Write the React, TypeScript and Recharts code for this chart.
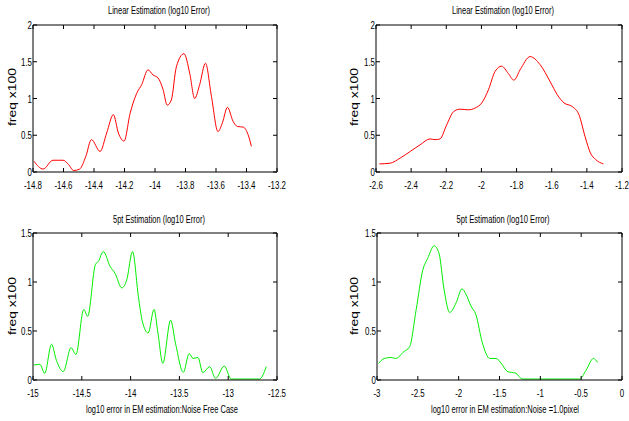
import { Line, LineChart, XAxis, YAxis } from 'recharts';

// panel 1: linear estimation, noise free
const linFreeX = [-14.793, -14.734, -14.669, -14.603, -14.57, -14.533, -14.494, -14.454, -14.417, -14.36, -14.317, -14.273, -14.24, -14.203, -14.163, -14.12, -14.087, -14.046, -14.013, -13.98, -13.947, -13.92, -13.893, -13.86, -13.81, -13.772, -13.74, -13.707, -13.669, -13.63, -13.587, -13.558, -13.525, -13.488, -13.46, -13.42, -13.39, -13.368];
const linFreeY = [0.145, 0.04, 0.16, 0.16, 0.11, 0.02, 0.04, 0.21, 0.44, 0.28, 0.53, 0.78, 0.53, 0.42, 0.8, 1.07, 1.19, 1.39, 1.32, 1.28, 1.12, 0.91, 0.98, 1.43, 1.61, 1.34, 1.0, 1.19, 1.48, 1.03, 0.55, 0.67, 0.88, 0.69, 0.62, 0.61, 0.51, 0.35];

// panel 2: linear estimation, noise 1.0 pixel
const linNoiseX = [-2.581, -2.519, -2.462, -2.405, -2.349, -2.292, -2.264, -2.236, -2.198, -2.159, -2.122, -2.075, -2.036, -1.998, -1.96, -1.922, -1.885, -1.847, -1.815, -1.78, -1.723, -1.666, -1.609, -1.568, -1.53, -1.483, -1.445, -1.41, -1.38, -1.35, -1.306];
const linNoiseY = [0.11, 0.12, 0.19, 0.28, 0.37, 0.45, 0.44, 0.45, 0.64, 0.82, 0.855, 0.846, 0.87, 0.94, 1.12, 1.37, 1.44, 1.34, 1.25, 1.39, 1.57, 1.46, 1.23, 1.05, 0.94, 0.89, 0.78, 0.48, 0.26, 0.17, 0.11];

// panel 3: 5pt estimation, noise free
const ptFreeX = [-14.99, -14.93, -14.88, -14.81, -14.76, -14.69, -14.61, -14.56, -14.48, -14.44, -14.36, -14.33, -14.28, -14.21, -14.16, -14.09, -14.04, -13.98, -13.92, -13.88, -13.82, -13.76, -13.72, -13.67, -13.59, -13.54, -13.46, -13.4, -13.36, -13.31, -13.26, -13.19, -13.13, -13.04, -12.97, -12.89, -12.68, -12.61];
const ptFreeY = [0.153, 0.16, 0.068, 0.365, 0.2, 0.085, 0.33, 0.26, 0.72, 0.65, 1.18, 1.21, 1.31, 1.16, 1.09, 0.94, 1.02, 1.31, 0.85, 0.6, 0.48, 0.72, 0.48, 0.17, 0.61, 0.375, 0.078, 0.27, 0.22, 0.23, 0.075, 0.136, 0.017, 0.143, 0.01, 0.01, 0.01, 0.136];

// panel 4: 5pt estimation, noise 1.0 pixel
const ptNoiseX = [-2.98, -2.91, -2.83, -2.77, -2.67, -2.6, -2.52, -2.44, -2.38, -2.3, -2.24, -2.18, -2.11, -2.03, -1.96, -1.91, -1.85, -1.79, -1.71, -1.62, -1.54, -1.48, -1.4, -1.3, -1.22, -0.97, -0.52, -0.44, -0.35, -0.3];
const ptNoiseY = [0.17, 0.22, 0.23, 0.22, 0.29, 0.34, 0.72, 1.12, 1.24, 1.37, 1.29, 0.93, 0.69, 0.79, 0.93, 0.875, 0.755, 0.67, 0.38, 0.22, 0.22, 0.17, 0.086, 0.069, 0.01, 0.01, 0.01, 0.1, 0.22, 0.18];

const linFreeTicks = [-14.8, -14.6, -14.4, -14.2, -14, -13.8, -13.6, -13.4, -13.2];
const linNoiseTicks = [-2.6, -2.4, -2.2, -2, -1.8, -1.6, -1.4, -1.2];
const ptFreeTicks = [-15, -14.5, -14, -13.5, -13, -12.5];
const ptNoiseTicks = [-3, -2.5, -2, -1.5, -1, -0.5, 0];
const yTicksTop = [0, 0.5, 1, 1.5, 2];
const yTicksBottom = [0, 0.5, 1, 1.5];

const FONT = '"Liberation Sans", Arial, sans-serif';
const TICK = 4;
const SQUEEZE = 0.72; // the original tick font is a narrow one

const fmt = (v: number) => String(Number(v.toFixed(2)));

function zip(xs: number[], ys: number[]) {
  return xs.map((x, i) => ({ x, y: ys[i] }));
}

function NarrowText({ x, y, anchor, children }: any) {
  return (
    <text transform={`translate(${x},${y}) scale(${SQUEEZE},1)`} textAnchor={anchor} fontSize={11} fontFamily={FONT} fill="#000">
      {children}
    </text>
  );
}

function BottomTick({ x, y, payload }: any) {
  return (
    <g>
      <line x1={x} y1={y} x2={x} y2={y - TICK} stroke="#000" />
      <NarrowText x={x} y={y + 17} anchor="middle">{fmt(payload.value)}</NarrowText>
    </g>
  );
}

function TopTick({ x, y }: any) {
  return <line x1={x} y1={y} x2={x} y2={y + TICK} stroke="#000" />;
}

function LeftTick({ x, y, payload }: any) {
  return (
    <g>
      <line x1={x} y1={y} x2={x + TICK} y2={y} stroke="#000" />
      <NarrowText x={x - 1} y={y + 4} anchor="end">{fmt(payload.value)}</NarrowText>
    </g>
  );
}

function RightTick({ x, y }: any) {
  return <line x1={x} y1={y} x2={x - TICK} y2={y} stroke="#000" />;
}

interface PanelProps {
  left: number;
  top: number;
  width: number;
  height: number;
  margin: { top: number; right: number; bottom: number; left: number };
  xs: number[];
  ys: number[];
  xTicks: number[];
  yTicks: number[];
  color: string;
}

function Panel({ left, top, width, height, margin, xs, ys, xTicks, yTicks, color }: PanelProps) {
  const data = zip(xs, ys);
  const xDomain = [xTicks[0], xTicks[xTicks.length - 1]];
  const yDomain = [yTicks[0], yTicks[yTicks.length - 1]];
  // axes take 1px each, so trim the margins to keep the plot box where it belongs
  const m = { top: margin.top - 1, bottom: margin.bottom - 1, left: margin.left - 1, right: margin.right - 1 };
  return (
    <div style={{ position: 'absolute', left, top }}>
      <LineChart width={width} height={height} data={data} margin={m}>
        <XAxis xAxisId="b" dataKey="x" type="number" domain={xDomain} ticks={xTicks} allowDataOverflow
          height={1} tickSize={0} tickMargin={0} tickLine={false} axisLine={{ stroke: '#000' }}
          tick={<BottomTick />} interval={0} />
        <XAxis xAxisId="t" orientation="top" dataKey="x" type="number" domain={xDomain} ticks={xTicks} allowDataOverflow
          height={1} tickSize={0} tickMargin={0} tickLine={false} axisLine={{ stroke: '#000' }}
          tick={<TopTick />} interval={0} />
        <YAxis yAxisId="l" type="number" domain={yDomain} ticks={yTicks} allowDataOverflow
          width={1} tickSize={0} tickMargin={0} tickLine={false} axisLine={{ stroke: '#000' }}
          tick={<LeftTick />} interval={0} />
        <YAxis yAxisId="r" orientation="right" type="number" domain={yDomain} ticks={yTicks} allowDataOverflow
          width={1} tickSize={0} tickMargin={0} tickLine={false} axisLine={{ stroke: '#000' }}
          tick={<RightTick />} interval={0} />
        <Line xAxisId="b" yAxisId="l" type="monotone" dataKey="y" stroke={color} strokeWidth={1}
          dot={false} isAnimationActive={false} />
        <Line xAxisId="t" yAxisId="r" type="monotone" dataKey="y" stroke="none" strokeWidth={0}
          dot={false} isAnimationActive={false} />
      </LineChart>
    </div>
  );
}

function Label({ x, y, w, text, size = 10, rotate = false }: any) {
  return (
    <text
      x={x}
      y={y}
      textAnchor="middle"
      fontSize={size}
      fontFamily={FONT}
      textLength={w}
      lengthAdjust="spacingAndGlyphs"
      transform={rotate ? `rotate(-90 ${x} ${y})` : undefined}
      fill="#000"
    >
      {text}
    </text>
  );
}

export default function App() {
  return (
    <div style={{ position: 'absolute', left: 0, top: 0, width: 629, height: 421, background: '#fff', overflow: 'hidden' }}>
      <Panel left={0} top={0} width={314} height={200} margin={{ top: 25, left: 33, right: 37, bottom: 28 }}
        xs={linFreeX} ys={linFreeY} xTicks={linFreeTicks} yTicks={yTicksTop} color="#ff0000" />
      <Panel left={314} top={0} width={315} height={200} margin={{ top: 25, left: 62, right: 7, bottom: 28 }}
        xs={linNoiseX} ys={linNoiseY} xTicks={linNoiseTicks} yTicks={yTicksTop} color="#ff0000" />
      <Panel left={0} top={200} width={314} height={221} margin={{ top: 33, left: 33, right: 37, bottom: 41 }}
        xs={ptFreeX} ys={ptFreeY} xTicks={ptFreeTicks} yTicks={yTicksBottom} color="#00ee00" />
      <Panel left={314} top={200} width={315} height={221} margin={{ top: 33, left: 63, right: 7, bottom: 41 }}
        xs={ptNoiseX} ys={ptNoiseY} xTicks={ptNoiseTicks} yTicks={yTicksBottom} color="#00ee00" />
      <svg width={629} height={421} style={{ position: 'absolute', left: 0, top: 0, pointerEvents: 'none' }}>
        <Label x={159} y={14} w={102} text="Linear Estimation (log10 Error)" />
        <Label x={503} y={14} w={102} text="Linear Estimation (log10 Error)" />
        <Label x={159} y={223} w={92} text="5pt Estimation (log10 Error)" />
        <Label x={503} y={223} w={93} text="5pt Estimation (log10 Error)" />
        <Label x={162} y={413} w={152} size={11} text="log10 error in EM estimation:Noise Free Case" />
        <Label x={505} y={413} w={148} size={11} text="log10 error in EM estimation:Noise =1.0pixel" />
        <Label x={16} y={97} w={58} size={11} rotate text="freq x100" />
        <Label x={358} y={97} w={58} size={11} rotate text="freq x100" />
        <Label x={16} y={306} w={58} size={11} rotate text="freq x100" />
        <Label x={358} y={306} w={58} size={11} rotate text="freq x100" />
      </svg>
    </div>
  );
}
